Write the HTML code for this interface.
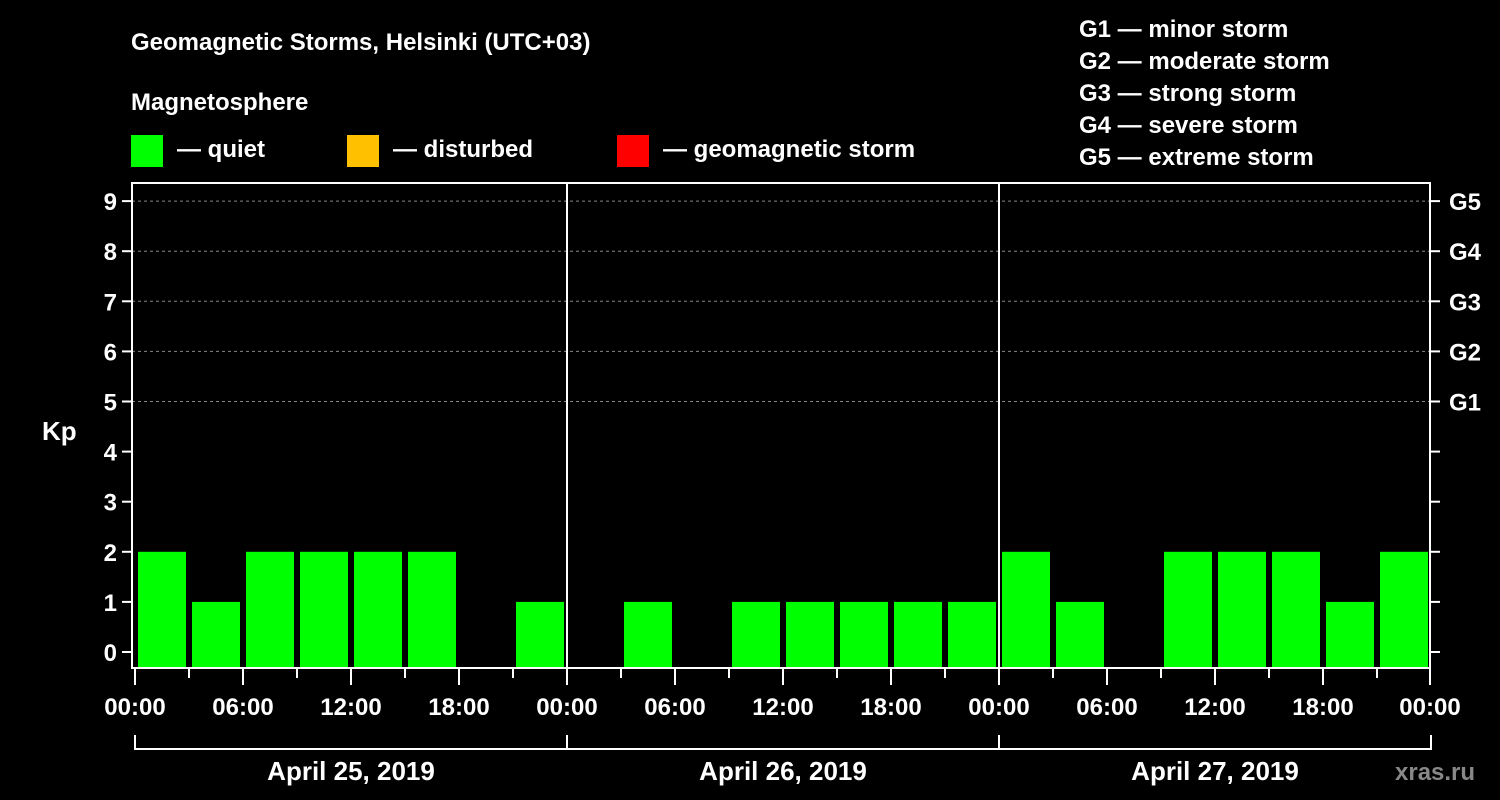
<!DOCTYPE html>
<html><head><meta charset="utf-8"><style>
html,body{margin:0;padding:0;background:#000;}
svg{display:block;font-family:"Liberation Sans",sans-serif;font-weight:bold;}
</style></head><body>
<svg id="chart" width="1500" height="800" viewBox="0 0 1500 800">
<rect width="1500" height="800" fill="#000"/>
<text x="131" y="50" fill="#fff" font-size="24">Geomagnetic Storms, Helsinki (UTC+03)</text>
<text x="131" y="110" fill="#fff" font-size="24">Magnetosphere</text>
<g><rect x="131" y="135" width="32" height="32" fill="#00ff00"/><text x="177" y="157" fill="#fff" font-size="24">— quiet</text></g>
<g><rect x="347" y="135" width="32" height="32" fill="#ffc000"/><text x="393" y="157" fill="#fff" font-size="24">— disturbed</text></g>
<g><rect x="617" y="135" width="32" height="32" fill="#ff0000"/><text x="663" y="157" fill="#fff" font-size="24">— geomagnetic storm</text></g>
<g fill="#fff" font-size="24">
<text x="1079" y="37">G1 — minor storm</text>
<text x="1079" y="69">G2 — moderate storm</text>
<text x="1079" y="101">G3 — strong storm</text>
<text x="1079" y="133">G4 — severe storm</text>
<text x="1079" y="165">G5 — extreme storm</text>
</g>
<text x="42" y="440" fill="#fff" font-size="26">Kp</text>
<text x="1395" y="780" fill="#888" font-size="24">xras.ru</text>
<g id="grid"></g>
<g id="bars"></g>
<g id="axes"></g>
</svg>
<script>
const days = ["April 25, 2019","April 26, 2019","April 27, 2019"];
const kpValues = [2,1,2,2,2,2,0,1, 0,1,0,1,1,1,1,1, 2,1,0,2,2,2,1,2];
const yTicks = [0,1,2,3,4,5,6,7,8,9];
const gLabels = ["G1","G2","G3","G4","G5"];
const hourLabels = ["00:00","06:00","12:00","18:00"];

const NS="http://www.w3.org/2000/svg";
const x0=135, dayW=432, plotL=132, plotR=1430, plotT=183, plotB=668;
const slotW=dayW/8;
function xScale(slot){return x0+slot*slotW;}
function yScale(v){return 652-v*50.1;}
function mk(tag,attrs,parent,text){const e=document.createElementNS(NS,tag);for(const k in attrs)e.setAttribute(k,attrs[k]);if(text!==undefined)e.textContent=text;parent.appendChild(e);return e;}
const grid=document.getElementById('grid'),bars=document.getElementById('bars'),axes=document.getElementById('axes');

yTicks.forEach(v=>{
  const y=yScale(v);
  if(v>=5){const l=mk('line',{x1:plotL,x2:plotR,y1:y,y2:y,stroke:'#888','stroke-dasharray':'3,3','stroke-width':1},grid);
    
    }
  mk('line',{x1:122,x2:plotL,y1:y,y2:y,stroke:'#fff','stroke-width':2},axes);
  mk('line',{x1:plotR,x2:1440,y1:y,y2:y,stroke:'#fff','stroke-width':2},axes);
  const t=mk('text',{x:117,y:y+9,fill:'#fff','font-size':24,'text-anchor':'end'},axes,String(v));
  
  
});
gLabels.forEach((g,i)=>{
  const t=mk('text',{x:1449,y:yScale(5+i)+9,fill:'#fff','font-size':24},axes,g);
  
  
});
kpValues.forEach((v,i)=>{
  if(v<=0)return;
  const color=v>=5?'#ff0000':(v>=4?'#ffc000':'#00ff00');
  const top=yScale(v);
  const r=mk('rect',{x:xScale(i)+3,y:top,width:slotW-6,height:plotB-1-top,fill:color},bars);
  
  
});
// frame
mk('rect',{x:plotL,y:plotT,width:plotR-plotL,height:plotB-plotT,fill:'none',stroke:'#fff','stroke-width':2},axes);
days.forEach((d,di)=>{
  const dx=x0+di*dayW;
  if(di>0){mk('line',{x1:dx,x2:dx,y1:plotT,y2:plotB,stroke:'#fff','stroke-width':2},axes);}
  for(let s=0;s<8;s++){
    const x=xScale(di*8+s);
    mk('line',{x1:x,x2:x,y1:plotB,y2:s%2===0?685:678,stroke:'#fff','stroke-width':2},axes);
  }
  hourLabels.forEach((h,hi)=>{
    const t=mk('text',{x:dx+hi*108,y:715,fill:'#fff','font-size':24,'text-anchor':'middle'},axes,h);
    
    
  });
  mk('path',{d:`M${dx} 735V749H${dx+dayW}V735`,fill:'none',stroke:'#fff','stroke-width':2},axes);
  const t=mk('text',{x:dx+dayW/2,y:780,fill:'#fff','font-size':26,'text-anchor':'middle'},axes,d);
  
  
});
mk('line',{x1:1430,x2:1430,y1:plotB,y2:685,stroke:'#fff','stroke-width':2},axes);
const tl=mk('text',{x:1430,y:715,fill:'#fff','font-size':24,'text-anchor':'middle'},axes,"00:00");


</script>
</body></html>
